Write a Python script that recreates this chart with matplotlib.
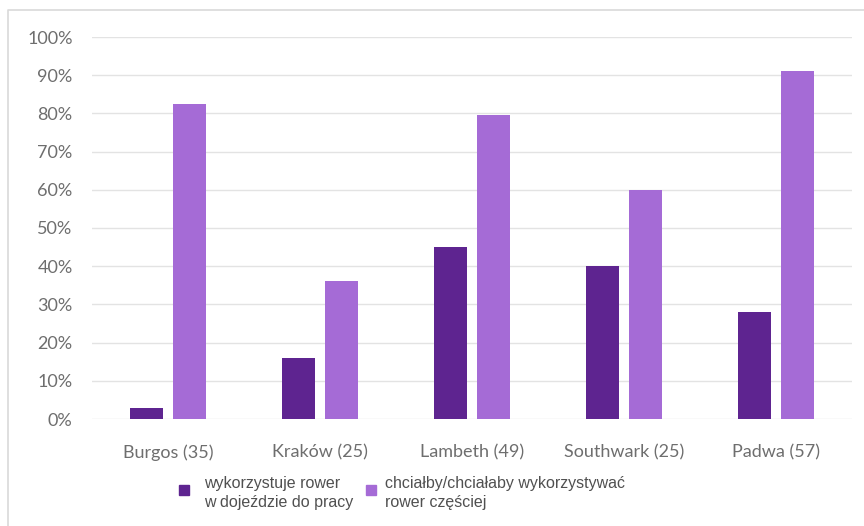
import matplotlib
matplotlib.use("Agg")
import matplotlib.pyplot as plt
import numpy as np
from matplotlib.lines import Line2D

cities = ["Burgos (35)", "Kraków (25)", "Lambeth (49)", "Southwark (25)", "Padwa (57)"]
uses_bike = [3, 16, 45, 40, 28]
would_use_more = [82.5, 36, 79.5, 60, 91]
series_names = ["wykorzystuje rower\nw dojeździe do pracy",
                "chciałby/chciałaby wykorzystywać\nrower częściej"]
y_ticks = [0, 10, 20, 30, 40, 50, 60, 70, 80, 90, 100]

dark = "#5e2490"
light = "#a56bd6"
txt = "#6e6e6e"

fig = plt.figure(figsize=(8.64, 5.26), dpi=100)
W, H = 864, 526
ax = fig.add_axes([92 / W, 1 - 419 / H, 760 / W, (419 - 37) / H])

x = np.arange(len(cities))
w = 0.217
off = 0.142
ax.bar(x - off, uses_bike, w, color=dark, zorder=3)
ax.bar(x + off, would_use_more, w, color=light, zorder=3)

ax.set_xlim(-0.5, len(cities) - 0.5)
ax.set_ylim(0, 100)
ax.set_yticks(y_ticks)
ax.set_yticklabels([f"{t}%" for t in y_ticks])
ax.set_xticks(x)
ax.set_xticklabels(cities)
ax.grid(axis="y", color="#e3e3e3", linewidth=1, zorder=0)
for s in ax.spines.values():
    s.set_visible(False)
ax.tick_params(length=0, labelcolor=txt)
ax.tick_params(axis="x", pad=18)
ax.tick_params(axis="y", pad=14)
for lab in ax.get_xticklabels() + ax.get_yticklabels():
    lab.set_family(["Lato", "DejaVu Sans"])
    lab.set_fontsize(13)

# legend, drawn as markers + text below the axes
leg_y = 1 - 493 / H
fig.add_artist(Line2D([184 / W], [1 - 490 / H], marker="s", markersize=7,
                      color=dark, linestyle="none"))
fig.text(204 / W, leg_y, series_names[0], fontsize=11.5, color="#505050",
         family="Liberation Sans", va="center", linespacing=1.3)
fig.add_artist(Line2D([371 / W], [1 - 490 / H], marker="s", markersize=7,
                      color=light, linestyle="none"))
fig.text(385 / W, leg_y, series_names[1], fontsize=11.5, color="#505050",
         family="Liberation Sans", va="center", linespacing=1.3)

# outer frame (top and left visible)
fig.add_artist(Line2D([8 / W, 8 / W, 1.0], [0, 1 - 10 / H, 1 - 10 / H],
                      color="#d9d9d9", linewidth=1.2))

fig.savefig("out.png", dpi=100)
